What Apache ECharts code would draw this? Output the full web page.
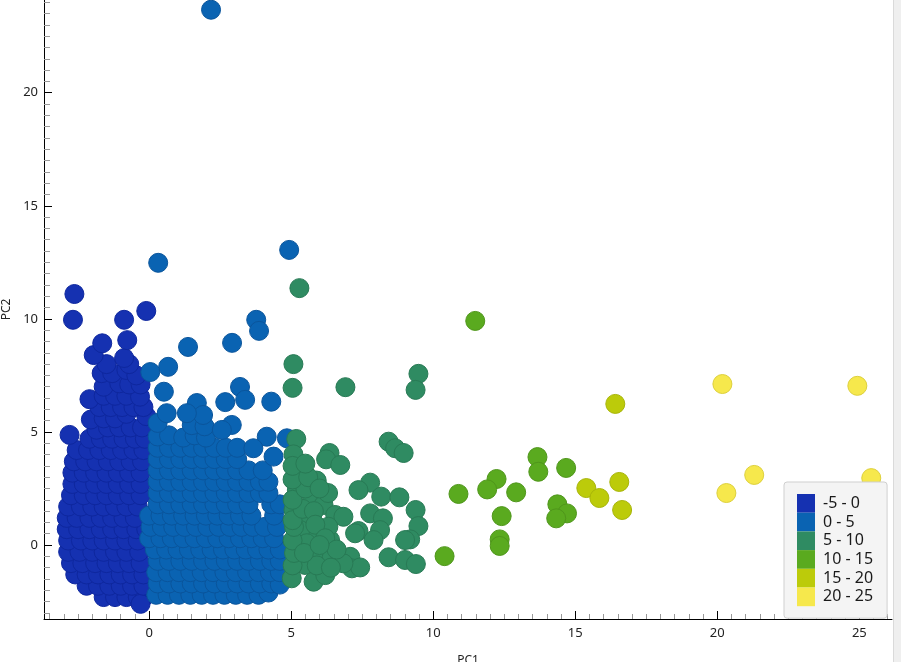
<!DOCTYPE html>
<html>
<head>
<meta charset="utf-8">
<title>PC1 / PC2</title>
<script src="https://cdn.jsdelivr.net/npm/echarts@6/dist/echarts.min.js"></script>
<style>
  html, body { margin: 0; padding: 0; background: #fff; }
  #chart { width: 901px; height: 662px; }
</style>
</head>
<body>
<div id="chart"></div>
<script>
// bins of PC1 (legend names)
var binNames = ['-5 - 0', '0 - 5', '5 - 10', '10 - 15', '15 - 20', '20 - 25'];
var binColors = ['#1531b1', '#0a63b2', '#2f8b62', '#5aaa1f', '#bccb0a', '#f6e84c'];
var binBorders = ['#0e279e', '#0a559c', '#287a55', '#4f961b', '#a8b50a', '#ddd03c'];

var xTicks = [0, 5, 10, 15, 20, 25];
var yTicks = [0, 5, 10, 15, 20];

// points, [PC1, PC2]
var binA = [
  [-1.6,-2.3],[-1.2,-2.3],[-0.8,-2.3],[-0.4,-2.3],[-0.15,-2.25],[-0.3,-2.6],
  [-2.2,-1.8],[-1.8,-1.8],[-1.4,-1.8],[-1.0,-1.8],[-0.6,-1.8],[-0.2,-1.8],
  [-2.6,-1.3],[-2.2,-1.3],[-1.8,-1.3],[-1.4,-1.3],[-1.0,-1.3],[-0.6,-1.3],[-0.2,-1.3],
  [-2.75,-0.8],[-2.35,-0.8],[-1.9,-0.8],[-1.5,-0.8],[-1.1,-0.8],[-0.7,-0.8],[-0.3,-0.8],
  [-2.85,-0.3],[-2.45,-0.3],[-2.0,-0.3],[-1.6,-0.3],[-1.2,-0.3],[-0.8,-0.3],[-0.35,-0.3],
  [-2.85,0.2],[-2.4,0.2],[-2.0,0.2],[-1.6,0.2],[-1.2,0.2],[-0.8,0.2],[-0.4,0.2],
  [-2.9,0.7],[-2.5,0.7],[-2.1,0.7],[-1.7,0.7],[-1.3,0.7],[-0.9,0.7],[-0.45,0.7],[-0.1,0.7],
  [-2.9,1.2],[-2.55,1.2],[-2.1,1.2],[-1.7,1.2],[-1.3,1.2],[-0.9,1.2],[-0.5,1.2],
  [-2.85,1.7],[-2.4,1.7],[-2.0,1.7],[-1.6,1.7],[-1.2,1.7],[-0.8,1.7],[-0.4,1.7],
  [-2.75,2.2],[-2.3,2.2],[-1.9,2.2],[-1.5,2.2],[-1.1,2.2],[-0.7,2.2],[-0.3,2.2],
  [-2.7,2.7],[-2.3,2.7],[-1.9,2.7],[-1.5,2.7],[-1.1,2.7],[-0.7,2.7],[-0.3,2.7],
  [-2.7,3.2],[-2.3,3.2],[-1.9,3.2],[-1.5,3.2],[-1.1,3.2],[-0.7,3.2],[-0.3,3.2],
  [-2.65,3.7],[-2.25,3.7],[-1.85,3.7],[-1.45,3.7],[-1.05,3.7],[-0.65,3.7],[-0.25,3.7],
  [-2.55,4.2],[-2.15,4.2],[-1.75,4.2],[-1.35,4.2],[-0.95,4.2],[-0.55,4.2],[-0.2,4.2],
  [-2.8,4.87],
  [-2.1,4.7],[-1.7,4.7],[-1.3,4.7],[-0.9,4.7],[-0.5,4.7],[-0.15,4.7],
  [-1.85,5.1],[-1.45,5.2],[-1.05,5.2],[-0.65,5.2],[-0.25,5.2],
  [-2.05,5.55],[-1.6,5.6],[-1.2,5.6],[-0.8,5.8],[-0.1,5.7],
  [-1.75,6.1],[-1.35,6.1],[-0.95,6.1],[-0.55,6.1],[-0.2,6.1],
  [-2.1,6.45],
  [-1.6,6.6],[-1.2,6.6],[-0.8,6.6],[-0.32,6.56],
  [-1.6,7.0],[-1.05,7.15],[-0.7,7.1],[-0.3,7.1],
  [-1.67,7.6],[-1.3,7.6],[-0.8,7.74],[-0.45,7.5],
  [-1.5,8.0],[-0.7,8.0],[-1.95,8.4],[-0.88,8.27],
  [-1.65,8.92],[-0.77,9.06],
  [-2.68,9.96],[-0.88,9.96],[-2.63,11.1],[-0.1,10.35]
];

var binB = [
  [0.25,-2.2],[0.65,-2.2],[1.05,-2.2],[1.45,-2.2],[1.85,-2.2],[2.25,-2.2],[2.65,-2.2],[3.05,-2.2],[3.45,-2.2],[3.85,-2.2],[4.2,-2.1],
  [0.3,-1.7],[0.7,-1.7],[1.1,-1.7],[1.5,-1.7],[1.9,-1.7],[2.3,-1.7],[2.7,-1.7],[3.1,-1.7],[3.5,-1.7],[3.9,-1.7],[4.3,-1.7],[4.6,-1.75],
  [0.25,-1.2],[0.65,-1.2],[1.05,-1.2],[1.45,-1.2],[1.85,-1.2],[2.25,-1.2],[2.65,-1.2],[3.05,-1.2],[3.45,-1.2],[3.85,-1.2],[4.25,-1.2],[4.6,-1.2],
  [0.3,-0.7],[0.7,-0.7],[1.1,-0.7],[1.5,-0.7],[1.9,-0.7],[2.3,-0.7],[2.7,-0.7],[3.1,-0.7],[3.5,-0.7],[3.9,-0.7],[4.3,-0.7],[4.6,-0.7],
  [0.2,-0.2],[0.6,-0.2],[1.0,-0.2],[1.4,-0.2],[1.8,-0.2],[2.2,-0.2],[2.6,-0.2],[3.0,-0.2],[3.4,-0.2],[3.8,-0.2],[4.2,-0.2],[4.6,-0.2],
  [0.0,0.3],[0.4,0.3],[0.8,0.3],[1.2,0.3],[1.6,0.3],[2.0,0.3],[2.4,0.3],[2.8,0.3],[3.2,0.3],[3.6,0.3],[4.0,0.3],[4.4,0.3],
  [0.05,0.8],[0.45,0.8],[0.85,0.8],[1.25,0.8],[1.65,0.8],[2.05,0.8],[2.45,0.8],[2.85,0.8],[3.25,0.8],[3.65,0.8],[4.05,0.8],[4.5,0.8],
  [0.0,1.3],[0.4,1.3],[0.8,1.3],[1.2,1.3],[1.6,1.3],[2.0,1.3],[2.4,1.3],[2.8,1.3],[3.2,1.3],[3.6,1.3],[4.4,1.3],
  [0.3,1.8],[0.7,1.8],[1.1,1.8],[1.5,1.8],[1.9,1.8],[2.3,1.8],[2.7,1.8],[3.1,1.8],[3.5,1.8],[4.3,1.8],[4.6,1.8],
  [0.3,2.3],[0.7,2.3],[1.1,2.3],[1.5,2.3],[1.9,2.3],[2.3,2.3],[2.7,2.3],[3.1,2.3],[3.5,2.3],[3.9,2.3],[4.2,2.3],
  [0.3,2.8],[0.7,2.8],[1.1,2.8],[1.5,2.8],[1.9,2.8],[2.3,2.8],[2.7,2.8],[3.1,2.8],[3.5,2.8],[3.9,2.8],[4.2,2.8],
  [0.3,3.3],[0.7,3.3],[1.1,3.3],[1.5,3.3],[1.9,3.3],[2.3,3.3],[2.7,3.3],[3.1,3.3],[3.5,3.3],[4.0,3.3],
  [0.3,3.8],[0.7,3.8],[1.1,3.8],[1.5,3.8],[1.9,3.8],[2.3,3.8],[2.7,3.8],[3.1,3.8],
  [0.3,4.3],[0.7,4.3],[1.1,4.3],[1.5,4.3],[1.9,4.3],[2.3,4.3],[2.7,4.3],[3.1,4.3],
  [0.3,4.8],[0.7,4.85],[1.2,4.75],[1.6,4.85],[2.0,4.75],
  [0.3,5.4],[1.5,5.3],[1.95,5.25],
  [2.18,23.67],[4.93,13.05],[0.32,12.48],[2.92,8.94],[1.37,8.76],[3.77,9.96],[3.87,9.47],
  [0.67,7.88],[0.04,7.65],[0.52,6.78],[3.2,6.99],[3.38,6.42],[2.68,6.32],[4.3,6.34],
  [1.68,6.28],[1.9,5.75],[1.33,5.83],[0.62,5.83],[2.91,5.31],[2.56,5.09],
  [4.14,4.79],[4.85,4.72],[3.67,4.28],[4.38,3.91]
];

var binC = [
  [5.29,11.36],[5.08,8.0],[5.05,6.95],[6.91,6.98],[9.48,7.57],[9.38,6.86],
  [5.18,4.69],[5.08,4.01],[8.43,4.57],[8.66,4.28],[8.96,4.07],[6.35,4.07],[6.23,3.79],[6.73,3.54],
  [5.32,3.32],[5.9,2.85],[7.78,2.76],[7.37,2.43],[8.17,2.14],[8.81,2.11],[5.73,1.99],[5.2,2.43],
  [5.08,1.55],[6.14,1.77],[5.55,1.11],[6.55,1.33],[6.84,1.25],[7.78,1.4],[8.23,1.18],[9.38,1.55],
  [9.48,0.84],[7.37,0.62],[7.25,0.52],[8.13,0.66],[7.9,0.22],[9.19,0.25],[9.01,0.22],[5.73,0.37],
  [6.37,0.22],[5.32,0.66],[6.31,0.81],[5.55,0.08],[6.02,-0.37],[6.43,-0.52],[7.08,-0.52],
  [8.43,-0.54],[9.01,-0.66],[9.39,-0.84],[7.14,-1.03],[7.43,-0.99],[5.49,-0.88],[6.84,-0.81],
  [5.02,-1.47],[5.79,-1.62],[6.2,-1.33],
  [5.05,-0.9],[5.1,-0.35],[5.05,0.2],[5.1,0.8],[5.05,1.1],[5.4,1.6],[5.8,1.5],[5.05,2.0],
  [5.5,2.5],[5.05,2.9],[5.6,3.0],[5.05,3.5],[5.5,3.6],[5.9,-0.9],[5.85,0.9],[6.2,0.3],
  [6.6,-0.2],[6.4,-1.0],[5.45,-0.35],[6.0,0.0],[6.3,2.3],[6.0,2.5]
];

var binD = [
  [11.48,9.91],[13.67,3.89],[13.7,3.24],[14.68,3.41],[12.23,2.92],[11.9,2.46],[12.92,2.33],
  [10.89,2.26],[14.37,1.8],[14.71,1.4],[14.33,1.18],[12.41,1.28],[12.34,0.25],[12.34,-0.04],[10.4,-0.49]
];

var binE = [[16.41,6.24],[15.39,2.52],[15.85,2.08],[16.55,2.79],[16.65,1.55]];

var binF = [[20.18,7.12],[24.93,7.04],[20.32,2.3],[21.3,3.1],[25.42,2.96]];

var bins = [binA, binB, binC, binD, binE, binF];

var font = '"Noto Sans", "Open Sans", sans-serif';

window.onload = function () {
  var chart = echarts.init(document.getElementById('chart'));

  var series = bins.map(function (pts, i) {
    return {
      name: binNames[i],
      type: 'scatter',
      data: pts,
      symbol: 'circle',
      symbolSize: 19,
      itemStyle: { color: binColors[i], borderColor: binBorders[i], borderWidth: 1, opacity: 1 },
      emphasis: { disabled: true }
    };
  });

  var option = {
    animation: false,
    backgroundColor: '#fff',
    grid: { left: 44, right: 9, top: 0, bottom: 43, containLabel: false, outerBoundsMode: 'none' },
    xAxis: {
      type: 'value', min: -3.7, max: 26.15, splitNumber: 6,
      name: 'PC1', nameLocation: 'middle', nameGap: 36,
      nameTextStyle: { fontSize: 12, color: '#222', fontFamily: font },
      axisLine: { onZero: false, lineStyle: { color: '#000', width: 1 } },
      axisTick: { inside: true, length: 8, customValues: xTicks, lineStyle: { color: '#000' } },
      minorTick: { show: true, splitNumber: 10, length: 5, lineStyle: { color: '#999' } },
      axisLabel: {
        customValues: xTicks, color: '#222', fontSize: 13, margin: 8, fontFamily: font,
        formatter: function (v) { return v % 5 === 0 ? String(v) : ''; }
      },
      splitLine: { show: false }
    },
    yAxis: {
      type: 'value', min: -3.27, max: 24.1, splitNumber: 5,
      name: 'PC2', nameLocation: 'middle', nameGap: 25,
      nameTextStyle: { fontSize: 12, color: '#222', fontFamily: font },
      axisLine: { onZero: false, lineStyle: { color: '#000', width: 1 } },
      axisTick: { inside: true, length: 8, customValues: yTicks, lineStyle: { color: '#000' } },
      minorTick: { show: true, splitNumber: 10, length: 6, lineStyle: { color: '#999' } },
      axisLabel: {
        customValues: yTicks, color: '#222', fontSize: 13, margin: 6, fontFamily: font,
        formatter: function (v) { return v % 5 === 0 ? String(v) : ''; }
      },
      splitLine: { show: false }
    },
    legend: {
      orient: 'vertical', left: 784, top: 482,
      itemWidth: 18, itemHeight: 18.7, itemGap: 0, icon: 'rect',
      backgroundColor: '#f4f4f4', borderColor: '#cfcfcf', borderWidth: 1, borderRadius: 3,
      padding: [12, 14, 12, 13],
      itemStyle: { borderWidth: 0 },
      selectedMode: false,
      textStyle: { fontSize: 16, color: '#1a1a1a', fontFamily: font, lineHeight: 18.7, padding: [0, 0, 0, 3] }
    },
    graphic: [
      { type: 'rect', left: 893, top: 0, shape: { width: 8, height: 662 }, style: { fill: '#efefef' }, silent: true },
      { type: 'rect', left: 893, top: 0, shape: { width: 1, height: 662 }, style: { fill: '#dadada' }, silent: true }
    ],
    series: series
  };

  chart.setOption(option);
};
</script>
</body>
</html>
